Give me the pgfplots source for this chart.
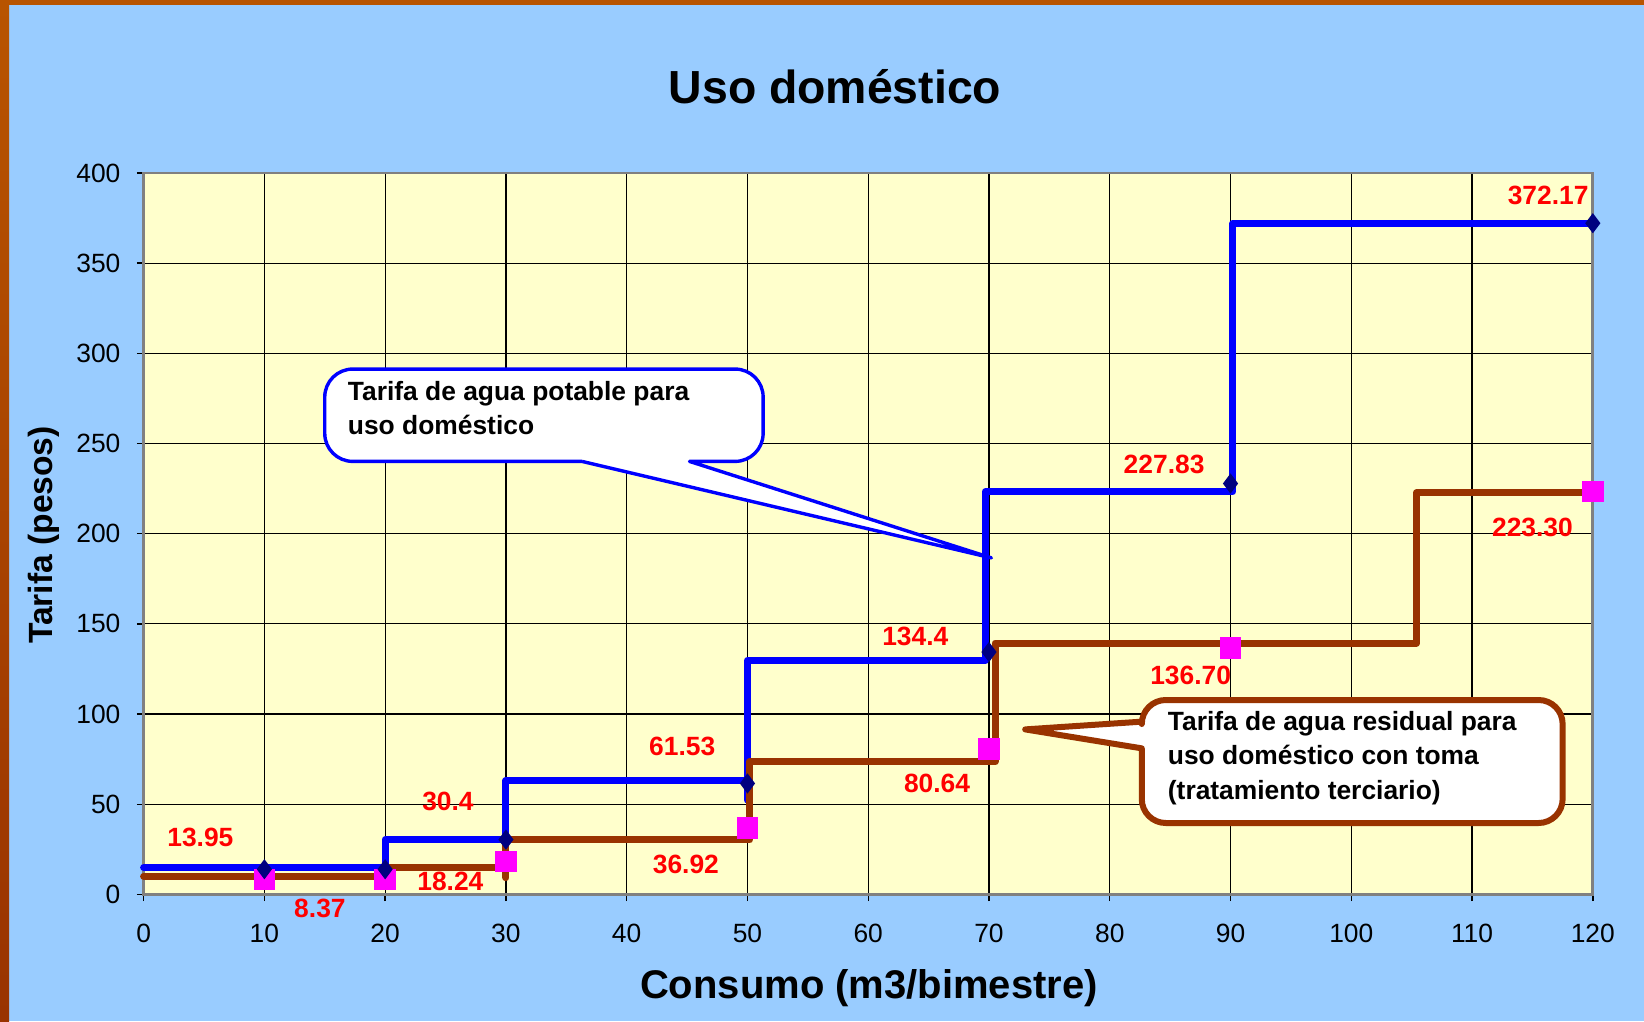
\documentclass[border=0pt]{standalone}
\usepackage{pgfplots}
\pgfplotsset{compat=1.18}
\usepackage{fontspec}
\setmainfont{Liberation Sans}
\definecolor{bgblue}{RGB}{153,204,255}
\definecolor{plotbg}{RGB}{255,255,204}
\definecolor{orangeb}{RGB}{184,84,0}
\definecolor{brownb}{RGB}{153,51,0}
\definecolor{brownl}{RGB}{153,51,0}
\definecolor{navy}{RGB}{0,0,128}
\definecolor{mag}{RGB}{255,0,255}
\definecolor{redl}{RGB}{255,0,0}
\definecolor{bluel}{RGB}{0,0,255}
\definecolor{axisgray}{RGB}{128,128,128}
\begin{document}
\begin{tikzpicture}
\useasboundingbox (0,0) rectangle (411pt,255.25pt);
\fill[bgblue] (0,0) rectangle (411pt,255.25pt);
\shade[top color=orangeb, bottom color=brownb] (0,0) rectangle (2.25pt,255.25pt);
\fill[orangeb] (0,254pt) rectangle (411pt,255.25pt);
\begin{axis}[
  at={(35.9pt,31.65pt)}, anchor=south west,
  scale only axis, width=362.3pt, height=180.35pt,
  xmin=0, xmax=120, ymin=0, ymax=400,
  xtick={0,10,...,120}, ytick={0,50,...,400},
  xtick pos=bottom, ytick pos=left,
  grid=major, major grid style={black, line width=0.3pt},
  axis background/.style={fill=plotbg},
  axis line style={draw=axisgray, line width=0.7pt},
  tick align=outside, major tick length=1.7pt,
  tick style={black, line width=0.35pt},
  tick label style={font=\fontsize{6.6}{7}\selectfont},
  /pgf/number format/assume math mode=true,
  xticklabel style={inner sep=0pt, anchor=north, yshift=-5.4pt},
  yticklabel style={inner sep=0pt, anchor=east, xshift=-3.9pt},
  clip=false,
  unbounded coords=jump,
]
% markers
\addplot[only marks, mark=square*, mark size=2.5pt, color=mag, mark options={draw=mag, fill=mag}]
  coordinates {(10,8.37) (20,8.37) (30,18.24) (50,36.92) (70,80.64) (90,136.70) (120,223.30)};
\addplot[only marks, mark=diamond*, mark size=2.2pt, color=navy, mark options={draw=navy, fill=navy}]
  coordinates {(10,13.95) (20,13.95) (30,30.4) (50,61.53) (70,134.4) (90,227.83) (120,372.17)};
% agua potable
\addplot[color=bluel, line width=1.75pt, line cap=round, line join=round, mark=none]
  coordinates {(0,14.9) (20,14.9) (20,30.5) (30,30.5) (30,63.0) (50,63.0) (50,nan) (50,52.3) (50,129.7) (69.7,129.7) (69.7,223.3) (90.2,223.3) (90.2,372.1) (120,372.1)};
% agua residual
\addplot[color=brownl, line width=1.75pt, line cap=round, line join=round, mark=none]
  coordinates {(0,10.1) (20,10.1) (20,nan) (20,15.1) (29.5,15.1) (29.5,nan) (30,9.3) (30,30.2) (50.2,30.2) (50.2,73.6) (70.5,73.6) (70.5,139.4) (105.4,139.4) (105.4,222.7) (120,222.7)};
% data labels
\begin{scope}[every node/.style={text=redl, font=\fontsize{6.6}{7}\bfseries, inner sep=0pt}]
\node at (axis cs:4.7,31.4) {13.95};
\node at (axis cs:14.6,-7.6) {8.37};
\node at (axis cs:25.2,51.7) {30.4};
\node at (axis cs:25.4,7.0) {18.24};
\node at (axis cs:44.6,82.0) {61.53};
\node at (axis cs:44.9,16.9) {36.92};
\node at (axis cs:63.9,142.9) {134.4};
\node at (axis cs:65.7,61.6) {80.64};
\node at (axis cs:84.5,238.4) {227.83};
\node at (axis cs:86.7,121.5) {136.70};
\node at (axis cs:116.3,387.8) {372.17};
\node at (axis cs:115.0,203.5) {223.30};
\end{scope}
% callout 1
\draw[bluel, line width=0.85pt, fill=white, line join=round]
  (axis cs:36.3,240.1) -- (axis cs:70.2,186.6) -- (axis cs:45.2,240.1)
  [rounded corners=7pt] -- (axis cs:51.3,240.1) -- (axis cs:51.3,291.3) -- (axis cs:15,291.3) -- (axis cs:15,240.1) -- (axis cs:36.3,240.1);
\node[anchor=west, align=left, inner sep=0pt, font=\fontsize{6.6}{8.4}\bfseries] at (axis cs:16.85,269.8)
  {Tarifa de agua potable para\\uso doméstico};
% callout 2
\draw[brownl, line width=1.5pt, fill=white, line join=round]
  (axis cs:82.65,95.8) -- (axis cs:73.0,91.5) -- (axis cs:82.65,81.0)
  [rounded corners=6pt] -- (axis cs:82.65,39.6) -- (axis cs:117.5,39.6) -- (axis cs:117.5,107.8) -- (axis cs:82.65,107.8) -- (axis cs:82.65,95.8);
\node[anchor=west, align=left, inner sep=0pt, font=\fontsize{6.6}{8.65}\bfseries] at (axis cs:84.75,75.6)
  {Tarifa de agua residual para\\uso doméstico con toma\\(tratamiento terciario)};
\end{axis}
\node[font=\fontsize{11.6}{14}\bfseries] at (208.75pt,233.5pt) {Uso doméstico};
\node[font=\fontsize{10}{12}\bfseries] at (217.25pt,8.25pt) {Consumo (m3/bimestre)};
\node[font=\fontsize{8.4}{10}\bfseries, rotate=90] at (11pt,121.5pt) {Tarifa (pesos)};
\end{tikzpicture}
\end{document}
